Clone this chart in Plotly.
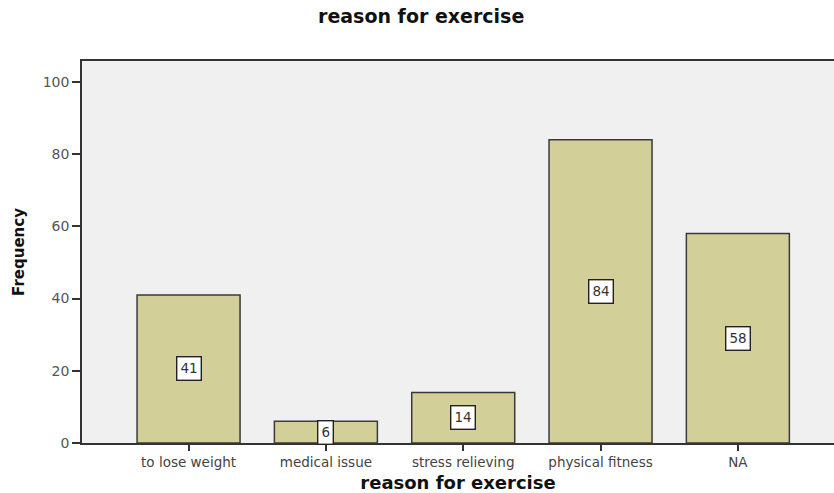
import plotly.graph_objects as go

categories = ["to lose weight", "medical issue", "stress relieving", "physical fitness", "NA"]
frequencies = [41, 6, 14, 84, 58]
y_ticks = [0, 20, 40, 60, 80, 100]

font_family = "DejaVu Sans, Verdana, sans-serif"

fig = go.Figure(
    go.Bar(
        x=categories,
        y=frequencies,
        width=0.75,
        marker=dict(color="#d3cf98", line=dict(color="#3a3a3a", width=1.5)),
        hoverinfo="x+y",
    )
)

# value labels in white boxes at the middle of each bar
for cat, val in zip(categories, frequencies):
    fig.add_annotation(
        x=cat, y=val / 2, text=str(val), showarrow=False,
        font=dict(family=font_family, size=13.5, color="#333333"),
        bgcolor="white", bordercolor="#222222", borderwidth=1.4, borderpad=3,
    )

fig.update_layout(
    width=834, height=493,
    margin=dict(l=82, r=0, t=61, b=50),
    paper_bgcolor="white",
    plot_bgcolor="#f0f0f0",
    showlegend=False,
    font=dict(family=font_family, color="#333333"),
    title=dict(
        text="<b>reason for exercise</b>",
        x=0.505, xanchor="center", y=0.967, yanchor="middle",
        font=dict(family=font_family, size=19, color="#111111"),
    ),
    xaxis=dict(
        range=[-0.776, 4.70],
        showline=True, linecolor="#333333", linewidth=1.5, mirror=True,
        ticks="outside", ticklen=6, tickwidth=1.5, tickcolor="#333333",
        tickfont=dict(family=font_family, size=13.5, color="#444444"),
        showgrid=False,
        title=dict(text="<b>reason for exercise</b>", standoff=7,
                   font=dict(family=font_family, size=18, color="#111111")),
    ),
    yaxis=dict(
        range=[0, 105.8],
        tickvals=y_ticks,
        showline=True, linecolor="#333333", linewidth=1.5,
        ticks="outside", ticklen=8, tickwidth=1.5, tickcolor="#333333",
        tickfont=dict(family=font_family, size=14, color="#555555"),
        showgrid=False, zeroline=False,
        title=dict(text="<b>Frequency</b>", standoff=14,
                   font=dict(family=font_family, size=15, color="#111111")),
    ),
)

fig.write_html("out.html")
